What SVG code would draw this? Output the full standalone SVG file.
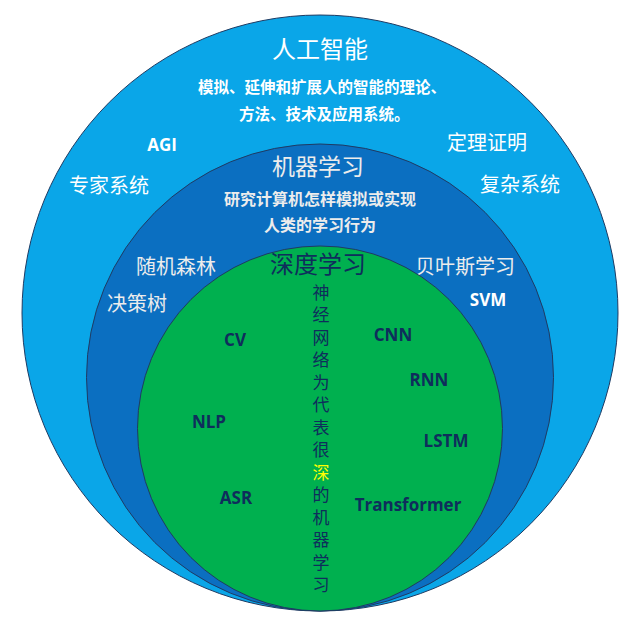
<svg xmlns="http://www.w3.org/2000/svg" width="640" height="622" viewBox="0 0 640 622">
<style>
.ring{stroke:#1f3b63;stroke-width:1}
.cjk{font-family:"Noto Sans CJK SC","Noto Sans",sans-serif}
.lat{font-family:"Open Sans","Liberation Sans",sans-serif;font-weight:700}
.w{fill:#ffffff}
.g{fill:#ececec}
.n{fill:#0f2d5c}
.b{font-weight:700}
</style>
<rect width="640" height="622" fill="#ffffff"/>
<g id="ai">
<circle class="ring" cx="320" cy="313" r="298" fill="#0aa6e8"/>
<text class="cjk w" x="320" y="58" font-size="24" text-anchor="middle">人工智能</text>
<text class="cjk w b" x="198" y="93" font-size="15.5">模拟、延伸和扩展人的智能的理论、</text>
<text class="cjk w b" x="239" y="120" font-size="15.5">方法、技术及应用系统。</text>
<text class="lat w" x="162" y="151" font-size="17" text-anchor="middle">AGI</text>
<text class="cjk w" x="487" y="150" font-size="20" text-anchor="middle">定理证明</text>
<text class="cjk w" x="109" y="193" font-size="20" text-anchor="middle">专家系统</text>
<text class="cjk w" x="520" y="192" font-size="20" text-anchor="middle">复杂系统</text>
</g>
<g id="ml">
<circle class="ring" cx="320" cy="377.5" r="233.5" fill="#0b6fc1"/>
<text class="cjk g" x="318" y="175" font-size="23" text-anchor="middle">机器学习</text>
<text class="cjk g b" x="320" y="205" font-size="16" text-anchor="middle">研究计算机怎样模拟或实现</text>
<text class="cjk g b" x="320" y="231" font-size="16" text-anchor="middle">人类的学习行为</text>
<text class="cjk g" x="176" y="274" font-size="20" text-anchor="middle">随机森林</text>
<text class="cjk g" x="465" y="274" font-size="20" text-anchor="middle">贝叶斯学习</text>
<text class="cjk g" x="137" y="311" font-size="20" text-anchor="middle">决策树</text>
<text class="lat w" x="488" y="306" font-size="17" text-anchor="middle">SVM</text>
</g>
<g id="dl">
<circle class="ring" cx="320" cy="428.5" r="182.5" fill="#00b04f"/>
<text class="cjk n" x="318" y="273" font-size="24" text-anchor="middle">深度学习</text>
<text class="cjk n" x="321" y="284" font-size="17" writing-mode="vertical-rl" letter-spacing="5.5">神经网络为代表很<tspan fill="#ffff00">深</tspan>的机器学习</text>
<text class="lat n" x="235" y="346" font-size="17" text-anchor="middle">CV</text>
<text class="lat n" x="393" y="341" font-size="17" text-anchor="middle">CNN</text>
<text class="lat n" x="429" y="386" font-size="17" text-anchor="middle">RNN</text>
<text class="lat n" x="209" y="428" font-size="17" text-anchor="middle">NLP</text>
<text class="lat n" x="446" y="447" font-size="17" text-anchor="middle">LSTM</text>
<text class="lat n" x="236" y="504" font-size="17" text-anchor="middle">ASR</text>
<text class="lat n" x="408" y="511" font-size="17" text-anchor="middle">Transformer</text>
</g>
<g id="connectors"></g>
</svg>
